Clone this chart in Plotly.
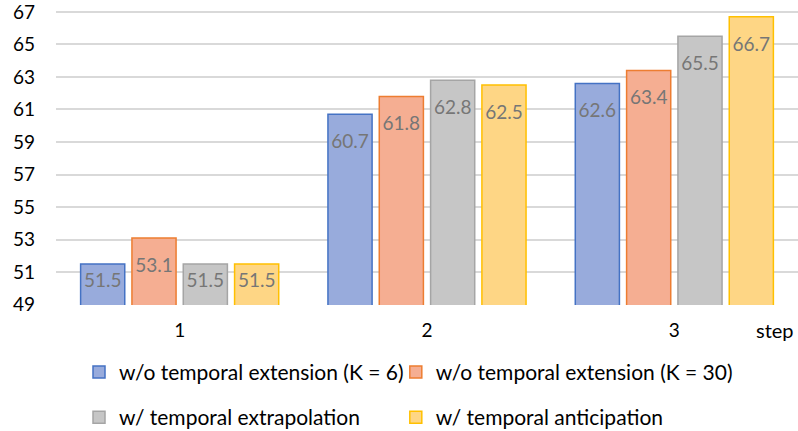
import plotly.graph_objects as go

steps = ["1", "2", "3"]
series_names = [
    "w/o temporal extension (K = 6)",
    "w/o temporal extension (K = 30)",
    "w/ temporal extrapolation",
    "w/ temporal anticipation",
]
vals_k6 = [51.5, 60.7, 62.6]
vals_k30 = [53.1, 61.8, 63.4]
vals_extra = [51.5, 62.8, 65.5]
vals_antic = [51.5, 62.5, 66.7]
y_ticks = [49, 51, 53, 55, 57, 59, 61, 63, 65, 67]
Y_MIN, Y_MAX = 49, 67

fills = ["#98abdc", "#f5ae92", "#c6c6c6", "#fed685"]
lines = ["#4472c4", "#ed7d31", "#a5a5a5", "#ffc000"]
legends = ["legend", "legend2", "legend3", "legend4"]
FONT = "Lato, sans-serif"

fig = go.Figure()
all_vals = [vals_k6, vals_k30, vals_extra, vals_antic]
for i, (name, vals, fc, lc, lg) in enumerate(zip(series_names, all_vals, fills, lines, legends)):
    fig.add_trace(go.Bar(
        x=steps, y=vals, name=name, offsetgroup=str(i),
        marker=dict(color=fc, line=dict(color=lc, width=1.5)),
        legend=lg,
    ))
for i, vals in enumerate(all_vals):
    # invisible markers push the label down inside the bar (smaller push for short bars)
    sizes = [30 if v - Y_MIN >= 3 else 12 for v in vals]
    fig.add_trace(go.Scatter(
        x=steps, y=vals, mode="markers+text", offsetgroup=str(i),
        text=[f"{v:.1f}" for v in vals], textposition="bottom center",
        marker=dict(size=sizes, opacity=0),
        textfont=dict(color="#767676", size=19, family=FONT),
        showlegend=False, cliponaxis=False, hoverinfo="skip",
    ))

def leg(x, y):
    return dict(orientation="h", xref="container", yref="container",
                x=x, y=y, xanchor="left", yanchor="middle",
                font=dict(size=21), bgcolor="rgba(0,0,0,0)")

fig.update_layout(
    width=798, height=431,
    margin=dict(l=56, r=0, t=3, b=126),
    paper_bgcolor="white", plot_bgcolor="white",
    barmode="group", bargap=0.17, bargroupgap=0.14,
    scattermode="group",
    font=dict(family=FONT, size=19, color="#000000"),
    xaxis=dict(showgrid=False, showline=False, ticks="", tickfont=dict(size=19),
               ticklabelstandoff=12),
    yaxis=dict(range=[Y_MIN - 0.02, Y_MAX + 0.3], tickvals=y_ticks, showgrid=True,
               gridcolor="#d9d9d9", gridwidth=1.5, zeroline=False,
               showline=False, tickfont=dict(size=19), ticklabelstandoff=20,
               ticklabeloverflow="allow"),
    legend=leg(0.099, 0.136),
    legend2=leg(0.496, 0.136),
    legend3=leg(0.099, 0.031),
    legend4=leg(0.496, 0.031),
    annotations=[dict(text="step", xref="paper", yref="paper", x=0.969, y=-0.084,
                      showarrow=False, font=dict(size=20), xanchor="center", yanchor="middle")],
)
fig.write_html("out.html")
